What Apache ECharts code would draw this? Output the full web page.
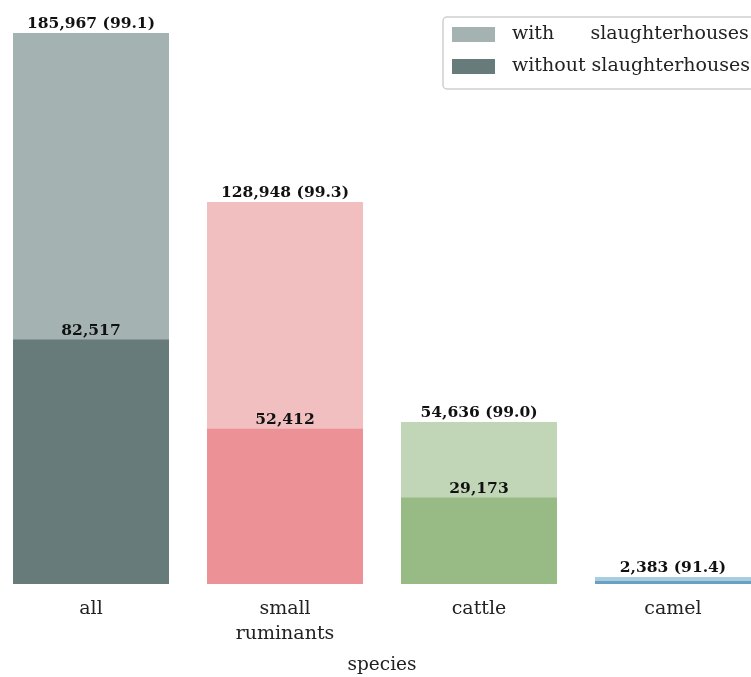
<!DOCTYPE html>
<html>
<head>
<meta charset="utf-8">
<script src="https://cdn.jsdelivr.net/npm/echarts@6/dist/echarts.min.js"></script>
<style>
  html, body { margin: 0; padding: 0; background: #fff; overflow: hidden; }
  /* the figure is cropped: the plot runs a little past both window edges */
  #chart { position: absolute; left: -6px; top: 0; width: 776px; height: 677px; }
</style>
</head>
<body>
<div id="chart"></div>
<script>
// values
var species = ['all', 'small\nruminants', 'cattle', 'camel'];
var withSlaughter = [185967, 128948, 54636, 2383];
var withoutSlaughter = [82517, 52412, 29173, 1050];
var sharePct = [99.1, 99.3, 99.0, 91.4];
var seriesNames = ['with      slaughterhouses', 'without slaughterhouses'];

// light / dark colour per species
var lightColors = ['#a4b3b2', '#f2bfc0', '#c1d6b6', '#a8cde0'];
var darkColors = ['#687b7b', '#ec9297', '#98bb85', '#6aa0c0'];

var serif = 'DejaVu Serif';
var chart = echarts.init(document.getElementById('chart'));

var option = {
    animation: false,
    textStyle: {fontFamily: serif},
    grid: {left: 0, right: 0, top: 33, bottom: 93, containLabel: false, outerBoundsMode: 'none'},
    legend: {
        left: 449,
        top: 17,
        orient: 'vertical',
        padding: [8, 12, 13, 9],
        itemWidth: 43,
        itemHeight: 15,
        itemGap: 13,
        icon: 'rect',
        borderColor: '#cfcfcf',
        borderWidth: 1.5,
        borderRadius: 4,
        textStyle: {fontFamily: serif, fontSize: 19, color: '#222', padding: [0, 0, 0, 12]},
        data: seriesNames
    },
    xAxis: {
        type: 'category',
        data: species,
        axisLine: {show: false},
        axisTick: {show: false},
        axisLabel: {fontFamily: serif, fontSize: 19, color: '#222', margin: 13, lineHeight: 25},
        name: 'species',
        nameLocation: 'middle',
        nameGap: 72,
        nameTextStyle: {fontFamily: serif, fontSize: 18.5, color: '#222'}
    },
    yAxis: {
        type: 'value',
        min: 0,
        max: 'dataMax',
        show: false
    },
    series: [
        {
            name: seriesNames[0],
            type: 'bar',
            barWidth: 156,
            barGap: '-100%',
            itemStyle: {color: lightColors[0]},
            data: withSlaughter.map(function (v, i) {
                return {value: v, itemStyle: {color: lightColors[i]}};
            }),
            label: {
                show: true,
                position: 'top',
                distance: 1,
                fontFamily: serif,
                fontWeight: 'bold',
                fontSize: 15.5,
                color: '#111',
                formatter: function (p) {
                    return p.value.toLocaleString('en-US') + ' (' + sharePct[p.dataIndex].toFixed(1) + ')';
                }
            }
        },
        {
            name: seriesNames[1],
            type: 'bar',
            barWidth: 156,
            barGap: '-100%',
            itemStyle: {color: darkColors[0]},
            data: withoutSlaughter.map(function (v, i) {
                var item = {value: v, itemStyle: {color: darkColors[i]}};
                // the camel label is not printed in the figure
                if (i === 3) item.label = {show: false};
                return item;
            }),
            label: {
                show: true,
                position: 'top',
                distance: 1,
                fontFamily: serif,
                fontWeight: 'bold',
                fontSize: 15.5,
                color: '#111',
                formatter: function (p) {
                    return p.value.toLocaleString('en-US');
                }
            }
        }
    ]
};

chart.setOption(option);
</script>
</body>
</html>
